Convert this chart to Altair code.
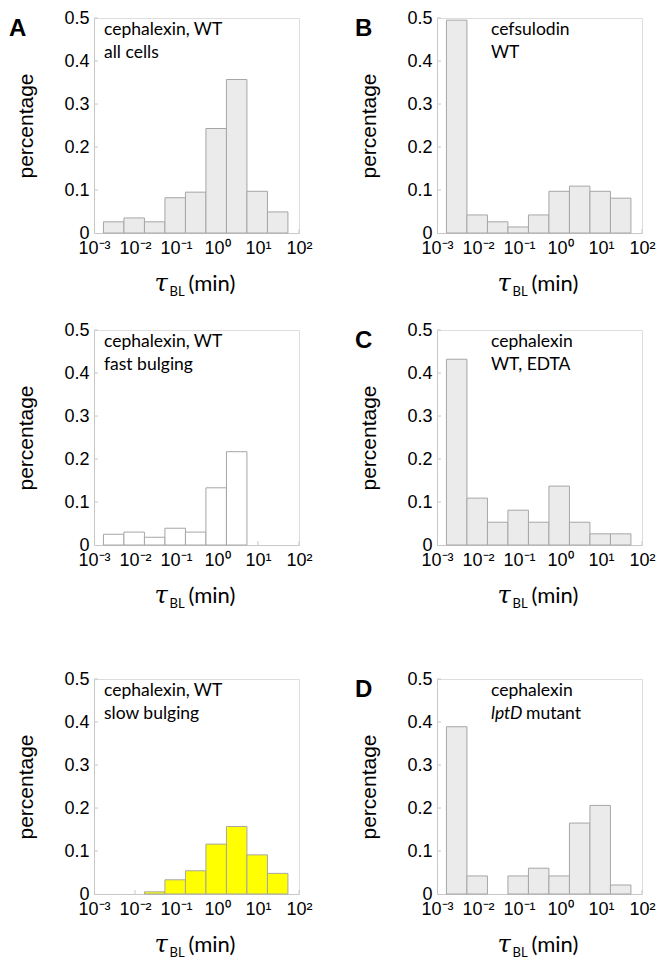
import json
import altair as alt
import pandas as pd

# ---------------- data ----------------
BIN_LO = [0.0017, 0.00537, 0.017, 0.0537, 0.17, 0.537, 1.7, 5.37, 17.0]
BIN_HI = [0.00537, 0.017, 0.0537, 0.17, 0.537, 1.7, 5.37, 17.0, 53.7]

X_TICKS = [0.001, 0.01, 0.1, 1, 10, 100]
X_TICK_LABELS = ["10⁻³", "10⁻²", "10⁻¹", "10⁰", "10¹", "10²"]
Y_TICKS = [0, 0.1, 0.2, 0.3, 0.4, 0.5]
Y_TICK_LABELS = ["0", "0.1", "0.2", "0.3", "0.4", "0.5"]

VAL_A = [0.026, 0.035, 0.026, 0.082, 0.095, 0.243, 0.357, 0.097, 0.049]
VAL_B = [0.495, 0.042, 0.026, 0.014, 0.042, 0.097, 0.109, 0.097, 0.081]
VAL_FAST = [0.025, 0.030, 0.018, 0.039, 0.030, 0.133, 0.217, 0.0, 0.0]
VAL_C = [0.432, 0.109, 0.053, 0.081, 0.053, 0.137, 0.053, 0.026, 0.026]
VAL_SLOW = [0.0, 0.0, 0.005, 0.033, 0.054, 0.116, 0.157, 0.091, 0.048]
VAL_D = [0.389, 0.042, 0.0, 0.042, 0.060, 0.042, 0.165, 0.206, 0.021]

W, H = 205, 215
AX_FONT = "Liberation Sans"
ANN_FONT = "Lato"
GRAY_FILL = "#ebebeb"
BAR_STROKE = "#a6a6a6"
YELLOW = "#ffff00"
AXIS_GRAY = "#c8c8c8"

x_label_expr = (
    f"{json.dumps(X_TICK_LABELS, ensure_ascii=False)}"
    f"[indexof({json.dumps(X_TICKS)}, datum.value)]"
)
y_label_expr = (
    f"{json.dumps(Y_TICK_LABELS)}"
    f"[indexof({json.dumps(Y_TICKS)}, datum.value)]"
)

X_SCALE = alt.Scale(type="log", domain=[0.001, 100], nice=False)
Y_SCALE = alt.Scale(domain=[0, 0.5], nice=False)


def text_layer(txt, x, y, size, font=ANN_FONT, style="normal", weight="normal",
               align="left", baseline="middle"):
    return alt.Chart(pd.DataFrame({"t": [txt]})).mark_text(
        font=font, fontSize=size, fontStyle=style, fontWeight=weight,
        align=align, baseline=baseline, color="#000000",
    ).encode(text="t:N", x=alt.value(x), y=alt.value(y))


def panel(values, fill, lines, letter, ann_x, letter_x):
    df = pd.DataFrame({"lo": BIN_LO, "hi": BIN_HI, "value": values})
    bars = alt.Chart(df).transform_filter("datum.value > 0").mark_rect(
        fill=fill, stroke=BAR_STROKE, strokeWidth=1
    ).encode(
        x=alt.X("lo:Q", scale=X_SCALE,
                axis=alt.Axis(values=X_TICKS, labelExpr=x_label_expr,
                              labelFlush=False, labelOverlap=False,
                              ticks=False, grid=False, title=None,
                              labelFont=AX_FONT, labelFontSize=18,
                              labelPadding=6, labelColor="#000000",
                              domainColor=AXIS_GRAY)),
        x2="hi:Q",
        y=alt.Y("value:Q", scale=Y_SCALE,
                axis=alt.Axis(values=Y_TICKS, labelExpr=y_label_expr,
                              ticks=False, grid=False, title="percentage",
                              titleFont=AX_FONT, titleFontSize=21,
                              titleFontWeight="normal", titleColor="#000000",
                              titlePadding=27,
                              labelFont=AX_FONT, labelFontSize=18,
                              labelPadding=5, labelColor="#000000",
                              domainColor=AXIS_GRAY)),
        y2=alt.datum(0),
    )
    # small inward ticks (drawn beneath the bars)
    xt = alt.Chart(pd.DataFrame({"v": X_TICKS[1:]})).mark_rule(
        color=AXIS_GRAY, strokeWidth=1
    ).encode(x=alt.X("v:Q", scale=X_SCALE), y=alt.value(H), y2=alt.value(H - 4))
    yt = alt.Chart(pd.DataFrame({"v": Y_TICKS[1:]})).mark_rule(
        color=AXIS_GRAY, strokeWidth=1
    ).encode(y=alt.Y("v:Q", scale=Y_SCALE), x=alt.value(0), x2=alt.value(4))
    layers = [xt, yt, bars]
    ys = [12, 35]
    for (segments, yy) in zip(lines, ys):
        for (txt, style, dx) in segments:
            layers.append(text_layer(txt, ann_x + dx, yy, 17.5, style=style))
    if letter:
        layers.append(text_layer(letter, letter_x, 18, 24, font=AX_FONT,
                                 weight="bold", baseline="alphabetic"))
    c = W / 2
    layers.append(text_layer("τ", c - 42, H + 58, 24, font="DejaVu Serif",
                             style="italic", baseline="alphabetic"))
    layers.append(text_layer("BL", c - 27, H + 63, 13, baseline="alphabetic"))
    layers.append(text_layer("(min)", c - 8, H + 58, 22, baseline="alphabetic"))
    return alt.layer(*layers).properties(width=W, height=H)


pA = panel(VAL_A, GRAY_FILL,
           [[("cephalexin, WT", "normal", 0)], [("all cells", "normal", 0)]],
           "A", 10, -85)
pB = panel(VAL_B, GRAY_FILL,
           [[("cefsulodin", "normal", 0)], [("WT", "normal", 0)]],
           "B", 54, -82)
pFast = panel(VAL_FAST, "#ffffff",
              [[("cephalexin, WT", "normal", 0)], [("fast bulging", "normal", 0)]],
              None, 10, -85)
pC = panel(VAL_C, GRAY_FILL,
           [[("cephalexin", "normal", 0)], [("WT, EDTA", "normal", 0)]],
           "C", 54, -82)
pSlow = panel(VAL_SLOW, YELLOW,
              [[("cephalexin, WT", "normal", 0)], [("slow bulging", "normal", 0)]],
              None, 10, -85)
pD = panel(VAL_D, GRAY_FILL,
           [[("cephalexin", "normal", 0)],
            [("lptD", "italic", 0), ("mutant", "normal", 35)]],
           "D", 54, -82)

row1 = alt.hconcat(pA, pB, spacing=41)
row2 = alt.hconcat(pFast, pC, spacing=41)
row3 = alt.hconcat(pSlow, pD, spacing=41)
top = alt.vconcat(row1, row2, spacing=20)

chart = alt.vconcat(top, row3, spacing=57).properties(
    padding={"left": 0, "top": 0, "right": 0, "bottom": 0}
).configure_view(stroke="transparent").configure(background="#ffffff")

chart.save("out.html", embed_options={"renderer": "svg", "actions": False})
